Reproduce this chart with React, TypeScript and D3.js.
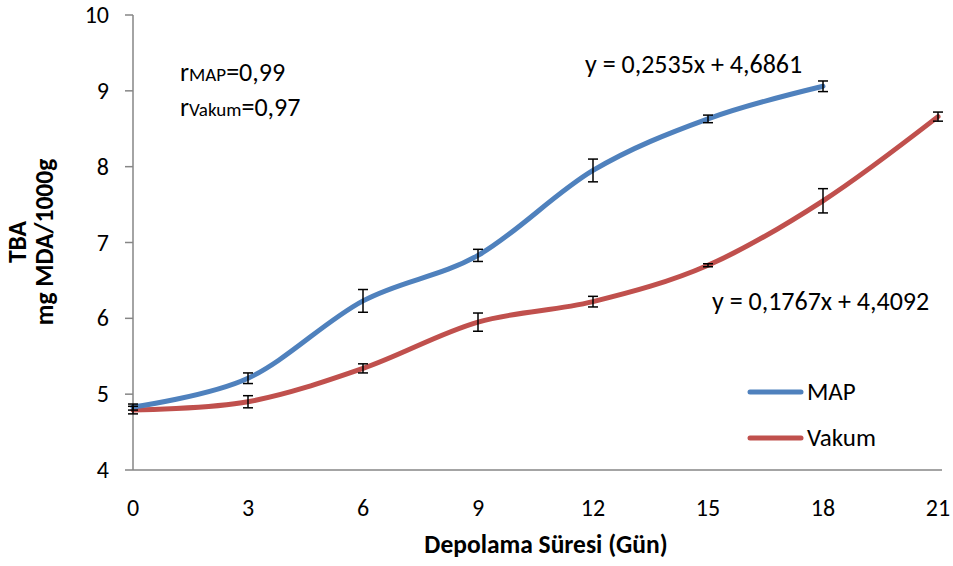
import React from "react";
import * as d3 from "d3";

const days = [0, 3, 6, 9, 12, 15, 18, 21];
const mapValues = [4.83, 5.21, 6.23, 6.83, 7.95, 8.63, 9.06];
const mapErrors = [0.04, 0.07, 0.15, 0.08, 0.15, 0.05, 0.07];
const vakumValues = [4.79, 4.9, 5.34, 5.95, 6.22, 6.7, 7.55, 8.66];
const vakumErrors = [0.05, 0.08, 0.06, 0.12, 0.07, 0.02, 0.16, 0.06];
const yTicks = [4, 5, 6, 7, 8, 9, 10];
const xTicks = [0, 3, 6, 9, 12, 15, 18, 21];

const FONT = "Carlito, 'Open Sans', 'Noto Sans', sans-serif";
const BLUE = "#4F81BD";
const RED = "#C0504D";
const AXIS = "#868686";

export default function App() {
  const W = 953, H = 566;
  const x = d3.scaleLinear().domain([0, 21]).range([133, 938]);
  const y = d3.scaleLinear().domain([4, 10]).range([470, 15]);
  const line = d3
    .line<[number, number]>()
    .x((d) => x(d[0]))
    .y((d) => y(d[1]))
    .curve(d3.curveCardinal.tension(0));

  const mapPts = mapValues.map((v, i) => [days[i], v] as [number, number]);
  const vakPts = vakumValues.map((v, i) => [days[i], v] as [number, number]);

  const errBars = (vals: number[], errs: number[], key: string) =>
    vals.map((v, i) => {
      const cx = x(days[i]);
      const y1 = y(v + errs[i]);
      const y2 = y(v - errs[i]);
      return (
        <g key={key + i} stroke="#000" strokeWidth={1.5}>
          <line x1={cx} x2={cx} y1={y1} y2={y2} />
          <line x1={cx - 5} x2={cx + 5} y1={y1} y2={y1} />
          <line x1={cx - 5} x2={cx + 5} y1={y2} y2={y2} />
        </g>
      );
    });

  return (
    <svg width={W} height={H} style={{ position: "absolute", left: 0, top: 0 }} fontFamily={FONT}>
      <rect width={W} height={H} fill="#fff" />
      {/* axes */}
      <line x1={133} x2={133} y1={y(10)} y2={y(4)} stroke={AXIS} strokeWidth={1.5} />
      <line x1={133} x2={942} y1={y(4)} y2={y(4)} stroke={AXIS} strokeWidth={1.5} />
      {yTicks.map((t) => (
        <g key={"yt" + t}>
          <line x1={125} x2={133} y1={y(t)} y2={y(t)} stroke={AXIS} strokeWidth={1.5} />
          <text x={109} y={y(t) + 8} textAnchor="end" fontSize={24} fill="#000">
            {t}
          </text>
        </g>
      ))}
      {xTicks.map((t) => (
        <text key={"xt" + t} x={x(t)} y={516} textAnchor="middle" fontSize={24} fill="#000">
          {t}
        </text>
      ))}
      <text x={546} y={553} textAnchor="middle" fontSize={25.5} fontWeight="bold" fill="#000">
        Depolama Süresi (Gün)
      </text>
      <g transform="translate(0,242) rotate(-90)">
        <text x={0} y={26} textAnchor="middle" fontSize={25.5} fontWeight="bold" fill="#000">
          TBA
        </text>
        <text x={0} y={53} textAnchor="middle" fontSize={25.5} fontWeight="bold" fill="#000">
          mg MDA/1000g
        </text>
      </g>

      {/* lines */}
      <path d={line(vakPts) || ""} fill="none" stroke={RED} strokeWidth={5} strokeLinecap="round" />
      <path d={line(mapPts) || ""} fill="none" stroke={BLUE} strokeWidth={5} strokeLinecap="round" />
      {errBars(mapValues, mapErrors, "m")}
      {errBars(vakumValues, vakumErrors, "v")}

      {/* annotations */}
      <text x={180} y={81} fill="#000">
        <tspan fontSize={26}>r</tspan>
        <tspan fontSize={19}>MAP</tspan>
        <tspan fontSize={26}>=0,99</tspan>
      </text>
      <text x={180} y={116} fill="#000">
        <tspan fontSize={26}>r</tspan>
        <tspan fontSize={19}>Vakum</tspan>
        <tspan fontSize={26}>=0,97</tspan>
      </text>
      <text x={585} y={73} fontSize={26} fill="#000">
        y = 0,2535x + 4,6861
      </text>
      <text x={712} y={310} fontSize={26} fill="#000">
        y = 0,1767x + 4,4092
      </text>

      {/* legend */}
      <line x1={750} x2={801} y1={392} y2={392} stroke={BLUE} strokeWidth={5} strokeLinecap="round" />
      <text x={807} y={400} fontSize={25} fill="#000">MAP</text>
      <line x1={750} x2={801} y1={438} y2={438} stroke={RED} strokeWidth={5} strokeLinecap="round" />
      <text x={807} y={446} fontSize={25} fill="#000">Vakum</text>
    </svg>
  );
}
